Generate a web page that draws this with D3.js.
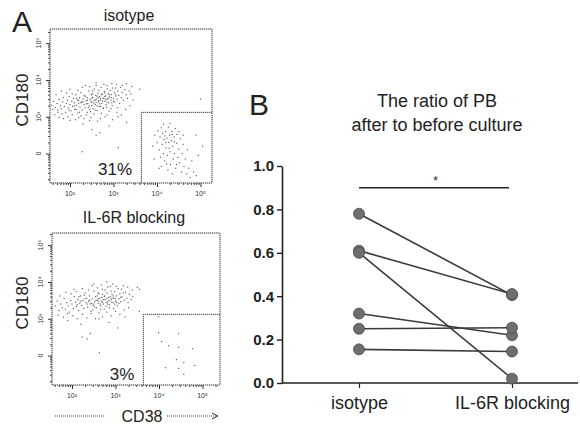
<!DOCTYPE html>
<html>
<head>
<meta charset="utf-8">
<script src="https://cdn.jsdelivr.net/npm/d3@7"></script>
<style>
  body { margin: 0; background: #fff; }
  svg { display: block; font-family: Arial, "Liberation Sans", sans-serif; }
</style>
</head>
<body>
<div id="chart-area"></div>
<script>
// ---- data: panel A (flow plots, values in log10 units) ----
const isoMain = [
  [1.58,3.31],[1.62,3.42],[1.66,3.25],[1.7,3.36],[1.72,3.18],[1.75,3.47],[1.78,3.3],[1.8,3.22],[1.83,3.4],[1.85,3.52],
  [1.87,3.28],[1.9,3.12],[1.92,3.36],[1.94,3.45],[1.96,3.24],[1.98,3.55],[2.0,3.33],[2.02,3.16],[2.04,3.42],[2.06,3.28],
  [2.08,3.5],[2.1,3.38],[2.11,3.2],[2.13,3.6],[2.15,3.31],[2.17,3.45],[2.18,3.1],[2.2,3.37],[2.22,3.52],[2.23,3.26],
  [2.25,3.66],[2.27,3.41],[2.28,3.18],[2.3,3.48],[2.32,3.33],[2.33,3.58],[2.35,3.24],[2.37,3.44],[2.38,3.05],[2.4,3.52],
  [2.41,3.36],[2.43,3.7],[2.44,3.29],[2.46,3.47],[2.47,3.14],[2.49,3.6],[2.5,3.39],[2.52,3.53],[2.53,3.22],[2.55,3.44],
  [2.56,3.75],[2.58,3.33],[2.59,3.58],[2.61,3.48],[2.62,3.17],[2.64,3.64],[2.65,3.4],[2.67,3.28],[2.68,3.55],[2.7,3.45],
  [2.71,3.8],[2.73,3.36],[2.74,3.62],[2.76,3.5],[2.77,3.24],[2.79,3.69],[2.8,3.42],[2.82,3.57],[2.83,3.33],[2.85,3.85],
  [2.86,3.48],[2.88,3.63],[2.89,3.38],[2.91,3.54],[2.92,3.72],[2.94,3.45],[2.95,3.6],[2.97,3.3],[2.98,3.78],[3.0,3.5],
  [3.02,3.65],[3.03,3.4],[3.05,3.56],[3.07,3.88],[3.08,3.47],[3.1,3.7],[3.12,3.58],[3.14,3.36],[3.16,3.8],[3.18,3.52],
  [3.2,3.66],[3.23,3.45],[3.26,3.74],[3.29,3.6],[3.32,3.5],[3.36,3.7],[3.4,3.62],
  [2.3,3.4],[2.4,3.45],[2.5,3.3],[2.6,3.4],[2.7,3.5],[2.8,3.55],[2.5,3.5],[2.55,3.37],[2.65,3.52],[2.75,3.42],
  [2.85,3.4],[2.95,3.52],[2.42,3.25],[2.62,3.3],[2.72,3.6],[2.82,3.47],[2.35,3.55],[2.58,3.46],[2.68,3.35],[2.78,3.5],
  [2.9,3.6],[3.0,3.42],[2.48,3.42],[2.38,3.35],[2.66,3.44],[2.88,3.5],[2.52,3.62],[2.7,3.28],[2.2,3.45],[2.1,3.3],
  [2.15,3.5],[2.25,3.38],[3.05,3.6],[2.96,3.38],[2.8,3.65],[2.62,3.56],
  [1.65,3.05],[1.75,2.98],[1.82,3.08],[1.95,3.0],[2.05,3.06],[2.12,2.92],[2.25,3.02],[2.32,2.95],[2.4,3.12],[2.48,2.98],
  [2.55,3.08],[2.63,2.88],[2.72,3.1],[2.8,3.0],[2.9,3.15],[2.98,2.92],[3.08,3.12],[3.18,3.05],[3.28,3.2],[3.38,3.3],
  [1.68,3.6],[1.8,3.7],[1.92,3.65],[2.05,3.62],[2.18,3.72],[2.28,3.8],[2.45,3.82],[2.52,3.7],[2.6,3.85],[2.66,3.72],
  [2.78,3.88],[2.86,3.76],[2.96,3.9],[3.05,3.78],[3.2,3.85],[3.3,3.9],[3.42,3.82],
  [2.45,3.2],[2.58,3.18],[2.76,3.22],[2.84,3.26],[2.94,3.22],[3.1,3.25],[2.14,3.2],[2.22,3.12],[1.98,3.18],[1.72,3.12],
  [1.6,3.2],
  [2.0,2.9],[2.3,2.8],[2.5,2.65],[2.7,2.95],[2.9,2.75],[3.1,3.0],[2.6,2.5],[2.2,2.98],[3.3,2.85],[2.45,2.9],
  [2.85,3.05],[1.85,2.95],[2.0,3.75],[2.35,3.85],[2.6,3.92],[3.45,3.45],[3.6,3.75],[5.0,3.48],[2.28,2.05],[3.11,2.16],
  [2.69,2.57]
];
const isoGate = [
  [3.95,2.5],[4.0,2.3],[4.02,2.62],[4.05,2.1],[4.07,2.45],[4.08,1.9],[4.1,2.7],[4.12,2.25],[4.13,2.55],[4.15,2.0],
  [4.16,2.38],[4.18,1.8],[4.2,2.6],[4.21,2.15],[4.23,2.42],[4.24,1.95],[4.26,2.72],[4.27,2.3],[4.29,2.5],[4.3,2.05],
  [4.31,1.7],[4.33,2.35],[4.34,2.6],[4.36,2.2],[4.37,1.85],[4.39,2.45],[4.4,2.0],[4.42,2.68],[4.43,1.6],[4.45,2.28],
  [4.46,2.52],[4.48,1.9],[4.5,2.12],[4.52,1.75],[4.54,2.4],[4.56,1.5],[4.58,2.0],[4.6,2.25],[4.62,1.65],[4.65,1.85],
  [4.68,1.45],[4.7,2.1],[4.73,1.6],[4.76,1.35],[4.8,1.8],[4.84,1.5],[4.9,1.4],[4.95,1.95],[4.25,1.55],[4.35,1.45],
  [4.1,1.65],[4.5,2.6],[4.6,2.5],[4.15,2.8],[4.3,2.82],[3.9,2.2],[3.93,1.85],[4.05,1.6],[4.2,2.3],[4.28,2.15],
  [4.18,2.48],[4.35,2.52],[4.4,2.32],[4.22,1.72],[4.45,1.7],[5.05,2.2],[4.9,2.5]
];
const ilMain = [
  [1.62,3.35],[1.66,3.48],[1.7,3.22],[1.74,3.4],[1.78,3.3],[1.82,3.55],[1.85,3.26],[1.88,3.44],[1.91,3.35],[1.94,3.18],
  [1.97,3.5],[2.0,3.4],[2.03,3.28],[2.05,3.6],[2.08,3.45],[2.1,3.33],[2.13,3.52],[2.15,3.22],[2.18,3.42],[2.2,3.62],
  [2.22,3.36],[2.25,3.5],[2.27,3.28],[2.3,3.7],[2.32,3.44],[2.34,3.56],[2.36,3.32],[2.38,3.48],[2.4,3.62],[2.42,3.4],
  [2.44,3.2],[2.46,3.54],[2.48,3.36],[2.5,3.75],[2.52,3.46],[2.54,3.6],[2.56,3.3],[2.58,3.5],[2.6,3.42],[2.62,3.68],
  [2.64,3.55],[2.66,3.26],[2.68,3.48],[2.7,3.8],[2.72,3.4],[2.74,3.6],[2.76,3.52],[2.78,3.34],[2.8,3.7],[2.82,3.46],
  [2.84,3.58],[2.86,3.38],[2.88,3.88],[2.9,3.52],[2.92,3.66],[2.94,3.44],[2.96,3.56],[2.98,3.74],[3.0,3.48],[3.02,3.62],
  [3.04,3.36],[3.06,3.82],[3.08,3.54],[3.1,3.68],[3.12,3.46],[3.15,3.6],[3.18,3.9],[3.2,3.5],[3.23,3.72],[3.26,3.56],
  [3.29,3.44],[3.32,3.66],[3.36,3.52],[3.4,3.6],
  [2.4,3.5],[2.5,3.4],[2.6,3.55],[2.7,3.45],[2.8,3.55],[2.9,3.45],[3.0,3.55],[2.55,3.5],[2.65,3.4],[2.75,3.62],
  [2.85,3.5],[2.95,3.62],[2.45,3.42],[2.62,3.48],[2.72,3.52],[2.82,3.4],[2.92,3.56],[3.02,3.45],[2.35,3.4],[2.58,3.62],
  [2.68,3.58],[2.78,3.44],[2.88,3.6],[2.98,3.4],[2.52,3.32],[2.7,3.66],[2.86,3.3],[3.08,3.42],[2.3,3.55],[2.2,3.48],
  [2.12,3.38],[2.6,3.7],[2.76,3.78],[2.9,3.75],[3.12,3.58],[2.66,3.35],
  [1.68,3.1],[1.8,3.04],[1.9,3.14],[2.02,3.08],[2.12,3.0],[2.24,3.12],[2.34,3.02],[2.44,3.14],[2.54,3.0],[2.62,3.16],
  [2.7,3.05],[2.8,3.18],[2.9,3.08],[3.0,3.2],[3.1,3.12],[3.2,3.24],[3.3,3.3],[2.48,3.24],[2.74,3.26],[2.96,3.28],
  [1.72,3.62],[1.86,3.72],[1.98,3.68],[2.1,3.74],[2.24,3.82],[2.38,3.78],[2.46,3.9],[2.58,3.84],[2.68,3.92],[2.82,3.86],
  [2.94,3.94],[3.02,3.88],[3.14,3.8],[3.28,3.86],[3.38,3.78],[2.16,3.6],[2.28,3.64],[3.18,3.7],
  [1.9,2.95],[2.2,2.85],[2.42,2.6],[2.62,3.0],[2.85,2.9],[3.05,2.75],[2.35,2.45],[3.22,3.05],[2.5,3.95],[2.8,4.0],
  [3.5,3.85],[3.55,3.2],[2.05,3.8],[2.23,2.5],[2.63,2.08],[3.55,3.8]
];
const ilGate = [
  [3.99,3.05],[3.99,2.62],[4.45,2.59],[4.06,2.38],[4.22,2.27],[4.45,2.22],[4.77,2.19],
  [4.4,1.89],[4.57,1.81],[4.82,1.73],[4.15,1.67],[4.45,1.65],[4.57,1.49]
];
const flowDecades = [2, 3, 4, 5];
const flowYLabels = ['0', '10³', '10⁴', '10⁵'];
const gateX = 3.64;
const gateY = 3.12;
const flowPanels = [
  {title: 'isotype', pct: '31%', main: isoMain, gate: isoGate},
  {title: 'IL-6R blocking', pct: '3%', main: ilMain, gate: ilGate}
];

// ---- data: panel B ----
const groups = ['isotype', 'IL-6R blocking'];
const isotypeVals = [0.78, 0.61, 0.60, 0.32, 0.25, 0.155];
const blockingVals = [0.405, 0.41, 0.02, 0.22, 0.255, 0.145];
const yTicksB = [0, 0.2, 0.4, 0.6, 0.8, 1.0];

const svg = d3.select('#chart-area').append('svg')
  .attr('width', 580).attr('height', 424);

// ================= Panel A =================
svg.append('text').attr('x', 12).attr('y', 32)
  .attr('font-size', 30).attr('fill', '#222').text('A');

const frames = [
  {x0: 50, x1: 212, y0: 29, y1: 183, titleY: 21, pctX: 115, pctY: 175},
  {x0: 52, x1: 220, y0: 233, y1: 385, titleY: 223, pctX: 122, pctY: 380}
];

const minorVals = [];
for (let d = 1; d <= 5; d++) {
  for (let k = 2; k <= 9; k++) minorVals.push(d + Math.log10(k));
}

flowPanels.forEach((p, i) => {
  const f = frames[i];
  const x = d3.scaleLinear().domain([1.54, 1.54 + (f.x1 - f.x0) / 43.5]).range([f.x0, f.x1]);
  const y = d3.scaleLinear().domain([1.2, 1.2 + (f.y1 - f.y0) / 36.8]).range([f.y1, f.y0]);
  const g = svg.append('g');

  g.append('text').attr('x', (f.x0 + f.x1) / 2 - 2).attr('y', f.titleY)
    .attr('text-anchor', 'middle').attr('font-size', 16).attr('fill', '#222')
    .text(p.title);

  // dots
  g.selectAll('rect.dot').data(p.main.concat(p.gate)).enter()
    .append('rect').attr('class', 'dot')
    .attr('x', d => x(d[0]) - 0.6).attr('y', d => y(d[1]) - 0.6)
    .attr('width', 1.2).attr('height', 1.2)
    .attr('fill', '#333').attr('opacity', 0.75);

  // frame + gate (dotted like the scan)
  g.append('rect').attr('x', f.x0).attr('y', f.y0)
    .attr('width', f.x1 - f.x0).attr('height', f.y1 - f.y0)
    .attr('fill', 'none').attr('stroke', '#333').attr('stroke-width', 1)
    .attr('stroke-dasharray', '1.3,0.7');
  g.append('path')
    .attr('d', `M${x(gateX)},${f.y1}V${y(gateY)}H${f.x1}`)
    .attr('fill', 'none').attr('stroke', '#444').attr('stroke-width', 1)
    .attr('stroke-dasharray', '1.3,0.7');

  // axes: minor and major ticks
  const xMinor = minorVals.filter(v => v > x.domain()[0] && v < x.domain()[1]);
  const yMinor = minorVals.filter(v => v > y.domain()[0] && v < y.domain()[1]);
  g.append('g').attr('transform', `translate(0,${f.y1})`)
    .call(d3.axisBottom(x).tickValues(xMinor).tickSize(2).tickSizeOuter(0).tickFormat(''))
    .call(a => a.select('.domain').remove())
    .selectAll('line').attr('stroke', '#444');
  g.append('g').attr('transform', `translate(0,${f.y1})`)
    .call(d3.axisBottom(x).tickValues(flowDecades).tickSize(4).tickSizeOuter(0).tickFormat(''))
    .call(a => a.select('.domain').remove())
    .selectAll('line').attr('stroke', '#333');
  g.append('g').attr('transform', `translate(${f.x0},0)`)
    .call(d3.axisLeft(y).tickValues(yMinor).tickSize(2).tickSizeOuter(0).tickFormat(''))
    .call(a => a.select('.domain').remove())
    .selectAll('line').attr('stroke', '#444');
  g.append('g').attr('transform', `translate(${f.x0},0)`)
    .call(d3.axisLeft(y).tickValues(flowDecades).tickSize(4).tickSizeOuter(0).tickFormat(''))
    .call(a => a.select('.domain').remove())
    .selectAll('line').attr('stroke', '#333');

  // tick labels
  g.selectAll('text.xl').data(flowDecades).enter()
    .append('text').attr('class', 'xl')
    .attr('x', d => x(d)).attr('y', f.y1 + 13)
    .attr('text-anchor', 'middle').attr('font-size', 7).attr('fill', '#333')
    .text(d => '10' + '⁰¹²³⁴⁵'[d]);
  g.selectAll('text.yl').data(flowDecades).enter()
    .append('text').attr('class', 'yl')
    .attr('transform', d => `translate(${f.x0 - 9},${y(d)}) rotate(-90)`)
    .attr('text-anchor', 'middle').attr('font-size', 7).attr('fill', '#333')
    .text((d, j) => flowYLabels[j]);

  g.append('text')
    .attr('transform', `translate(28,${(f.y0 + f.y1) / 2 - 6}) rotate(-90)`)
    .attr('text-anchor', 'middle').attr('font-size', 17).attr('fill', '#222')
    .text('CD180');

  g.append('text').attr('x', f.pctX).attr('y', f.pctY)
    .attr('text-anchor', 'middle').attr('font-size', 17).attr('fill', '#222')
    .text(p.pct);
});

// CD38 axis title with dotted arrow
svg.append('text').attr('x', 142).attr('y', 422)
  .attr('text-anchor', 'middle').attr('font-size', 16).attr('fill', '#222')
  .text('CD38');
svg.append('line').attr('x1', 55).attr('x2', 105).attr('y1', 416).attr('y2', 416)
  .attr('stroke', '#444').attr('stroke-dasharray', '1,1');
svg.append('line').attr('x1', 167).attr('x2', 216).attr('y1', 416).attr('y2', 416)
  .attr('stroke', '#444').attr('stroke-dasharray', '1,1');
svg.append('path').attr('d', 'M212,413L218,416L212,419')
  .attr('fill', 'none').attr('stroke', '#333');

// ================= Panel B =================
svg.append('text').attr('x', 249).attr('y', 115)
  .attr('font-size', 30).attr('font-weight', 300).attr('fill', '#222').text('B');
svg.append('text').attr('x', 437).attr('y', 107)
  .attr('text-anchor', 'middle').attr('font-size', 18).attr('fill', '#222')
  .text('The ratio of PB');
svg.append('text').attr('x', 437).attr('y', 131)
  .attr('text-anchor', 'middle').attr('font-size', 18).attr('fill', '#222')
  .text('after to before culture');

const yB = d3.scaleLinear().domain([0, 1]).range([383, 166]);
const xB = d3.scalePoint().domain(groups).range([359, 512]);
const axisLeftX = 282;
const axisRightX = 578;

const yAxisB = svg.append('g').attr('transform', `translate(${axisLeftX},0)`)
  .call(d3.axisLeft(yB).tickValues(yTicksB).tickSize(5).tickSizeOuter(0)
    .tickFormat(d3.format('.1f')));
yAxisB.select('.domain').attr('stroke', '#222').attr('stroke-width', 1.6);
yAxisB.selectAll('line').attr('stroke', '#222').attr('stroke-width', 1.4);
yAxisB.selectAll('text').attr('font-size', 15).attr('font-weight', 'bold')
  .attr('fill', '#222').attr('font-family', 'Arial, "Liberation Sans", sans-serif');

svg.append('line').attr('x1', axisLeftX).attr('x2', axisRightX)
  .attr('y1', yB(0)).attr('y2', yB(0))
  .attr('stroke', '#222').attr('stroke-width', 1.6);
const xAxisB = svg.append('g').attr('transform', `translate(0,${yB(0)})`)
  .call(d3.axisBottom(xB).tickSize(5).tickSizeOuter(0).tickPadding(8));
xAxisB.select('.domain').remove();
xAxisB.selectAll('line').attr('stroke', '#222').attr('stroke-width', 1.2);
xAxisB.selectAll('text').attr('font-size', 18).attr('fill', '#222')
  .attr('font-family', 'Arial, "Liberation Sans", sans-serif');

// significance bar
svg.append('line')
  .attr('x1', xB(groups[0])).attr('x2', xB(groups[1]) - 3)
  .attr('y1', yB(0.9)).attr('y2', yB(0.9))
  .attr('stroke', '#222').attr('stroke-width', 1.6);
svg.append('text').attr('x', (xB(groups[0]) + xB(groups[1])) / 2)
  .attr('y', yB(0.9) - 3).attr('text-anchor', 'middle')
  .attr('font-size', 13).attr('fill', '#333').text('*');

// paired lines and dots
const pairs = isotypeVals.map((v, i) => [v, blockingVals[i]]);
svg.selectAll('line.pair').data(pairs).enter()
  .append('line').attr('class', 'pair')
  .attr('x1', xB(groups[0])).attr('y1', d => yB(d[0]))
  .attr('x2', xB(groups[1])).attr('y2', d => yB(d[1]))
  .attr('stroke', '#3a3a3a').attr('stroke-width', 1.6);

const dots = [];
pairs.forEach(d => {
  dots.push({g: groups[0], v: d[0]});
  dots.push({g: groups[1], v: d[1]});
});
svg.selectAll('circle.pt').data(dots).enter()
  .append('circle').attr('class', 'pt')
  .attr('cx', d => xB(d.g)).attr('cy', d => yB(d.v)).attr('r', 5.5)
  .attr('fill', '#6e6e6e').attr('stroke', '#4a4a4a').attr('stroke-width', 0.8);
</script>
</body>
</html>
